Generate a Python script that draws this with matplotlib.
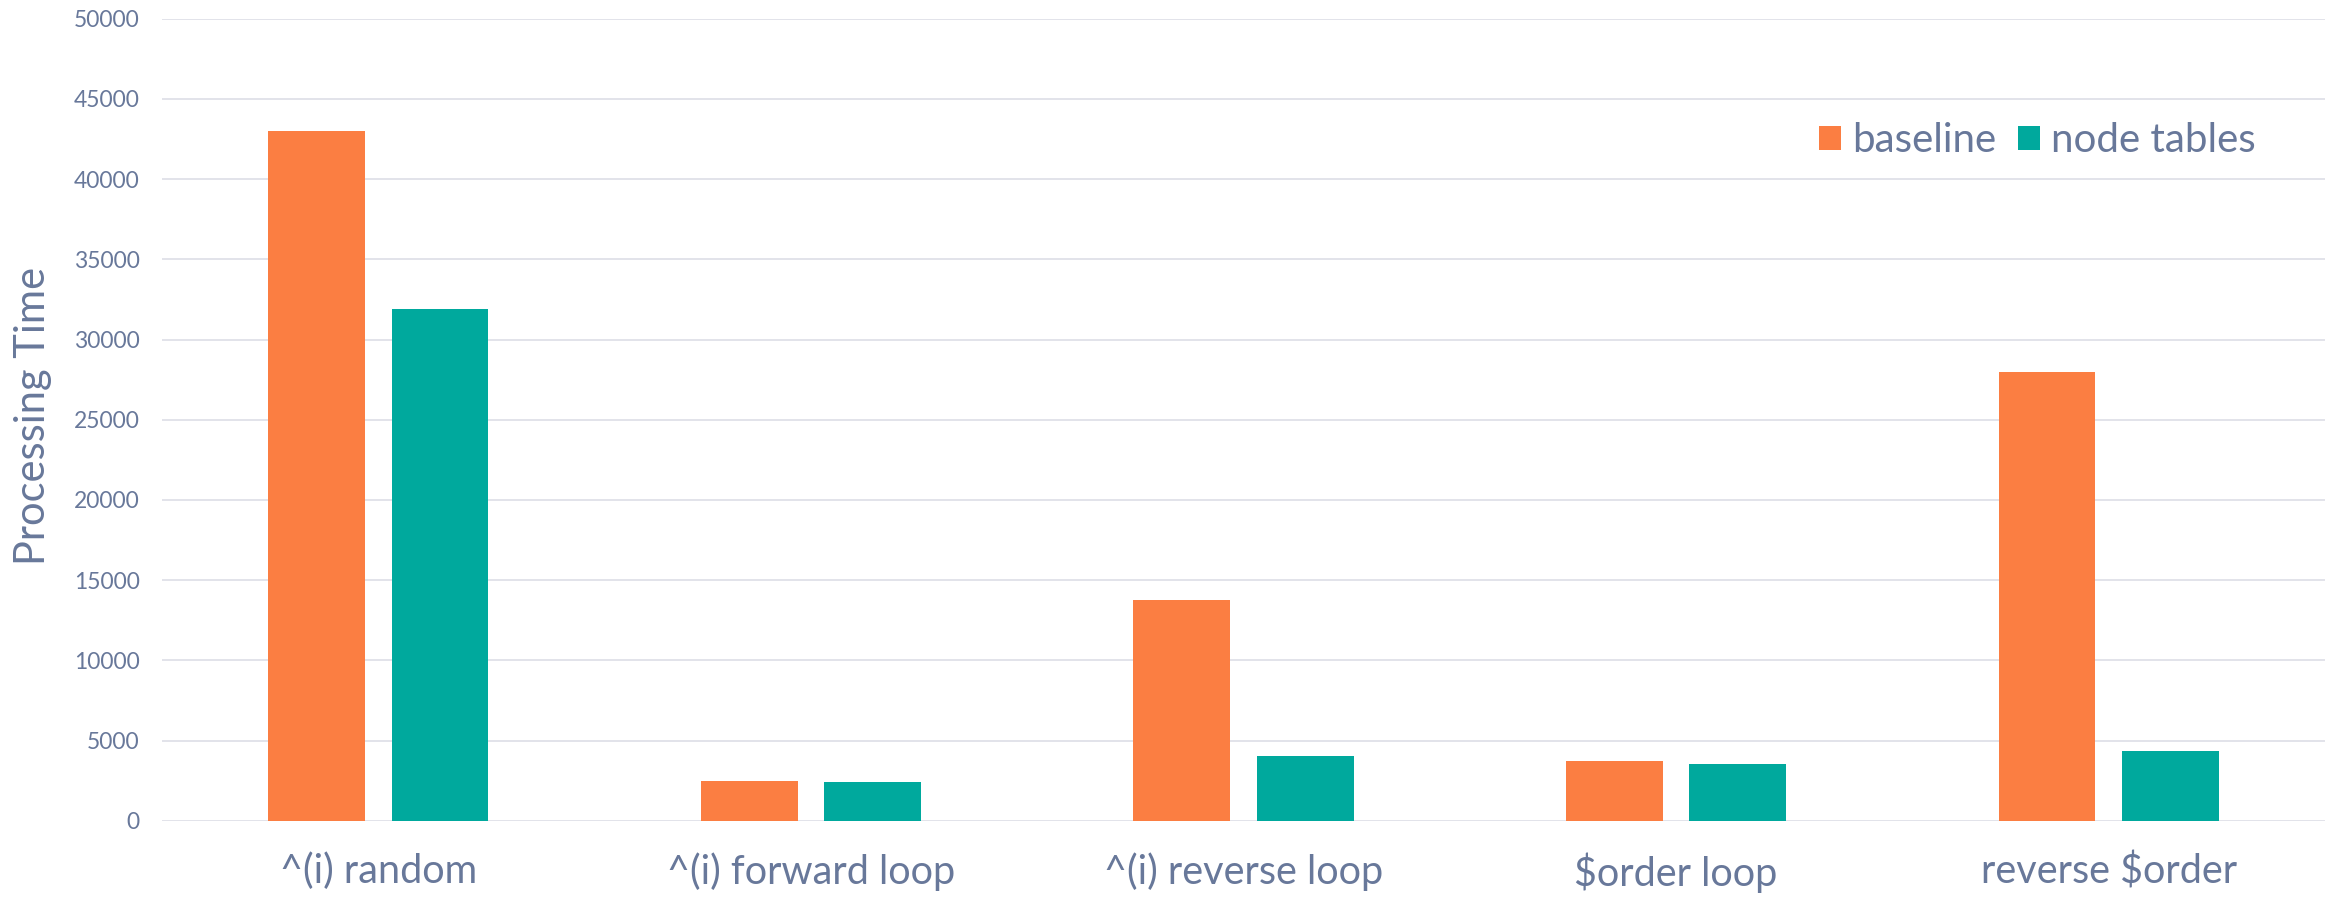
import matplotlib
matplotlib.use("Agg")
import matplotlib.pyplot as plt
import numpy as np

categories = ["^(i) random", "^(i) forward loop", "^(i) reverse loop", "$order loop", "reverse $order"]
baseline = [43000, 2480, 13750, 3700, 27950]
node_tables = [31900, 2400, 4050, 3550, 4330]
series_names = ["baseline", "node tables"]
colors = ["#FB7E42", "#00A99D"]
yticks = [0, 5000, 10000, 15000, 20000, 25000, 30000, 35000, 40000, 45000, 50000]

text_color = "#68789A"
grid_color = "#DFE1E8"

plt.rcParams['font.family'] = ['Lato', 'DejaVu Sans']

W, H = 2341, 899
fig = plt.figure(figsize=(W / 100, H / 100), dpi=100)
ax = fig.add_axes([162 / W, 1 - 820.7 / H, (2325 - 162) / W, (820.7 - 18.7) / H])

x = np.arange(len(categories))
bw = 0.224
off = 0.1427
ax.bar(x - off, baseline, width=bw, color=colors[0], label=series_names[0], zorder=3)
ax.bar(x + off, node_tables, width=bw, color=colors[1], label=series_names[1], zorder=3)

ax.set_xlim(-0.5, len(categories) - 0.5)
ax.set_ylim(0, 50000)
ax.set_yticks(yticks)
ax.set_yticklabels([str(v) for v in yticks])
ax.set_xticks(x)
ax.set_xticklabels(categories)

for s in ax.spines.values():
    s.set_visible(False)
ax.grid(axis='y', color=grid_color, linewidth=1.3, zorder=0)
ax.set_axisbelow(True)
ax.tick_params(axis='y', length=0, pad=16, labelsize=16.5, labelcolor=text_color)
ax.tick_params(axis='x', length=0, pad=23, labelsize=28.5, labelcolor=text_color)

ax.set_ylabel("Processing Time", fontsize=30, color=text_color)
ax.yaxis.set_label_coords((52 - 162) / (2325 - 162), 0.505)

leg = ax.legend(loc='center right', bbox_to_anchor=(2256 / W, 1 - 141 / H),
                bbox_transform=fig.transFigure, ncol=2, frameon=False,
                fontsize=29, handlelength=0.55, handleheight=0.55,
                handletextpad=0.27, columnspacing=0.54, borderpad=0, borderaxespad=0)
for t in leg.get_texts():
    t.set_color(text_color)

fig.savefig("out.png", dpi=100, facecolor="white")
